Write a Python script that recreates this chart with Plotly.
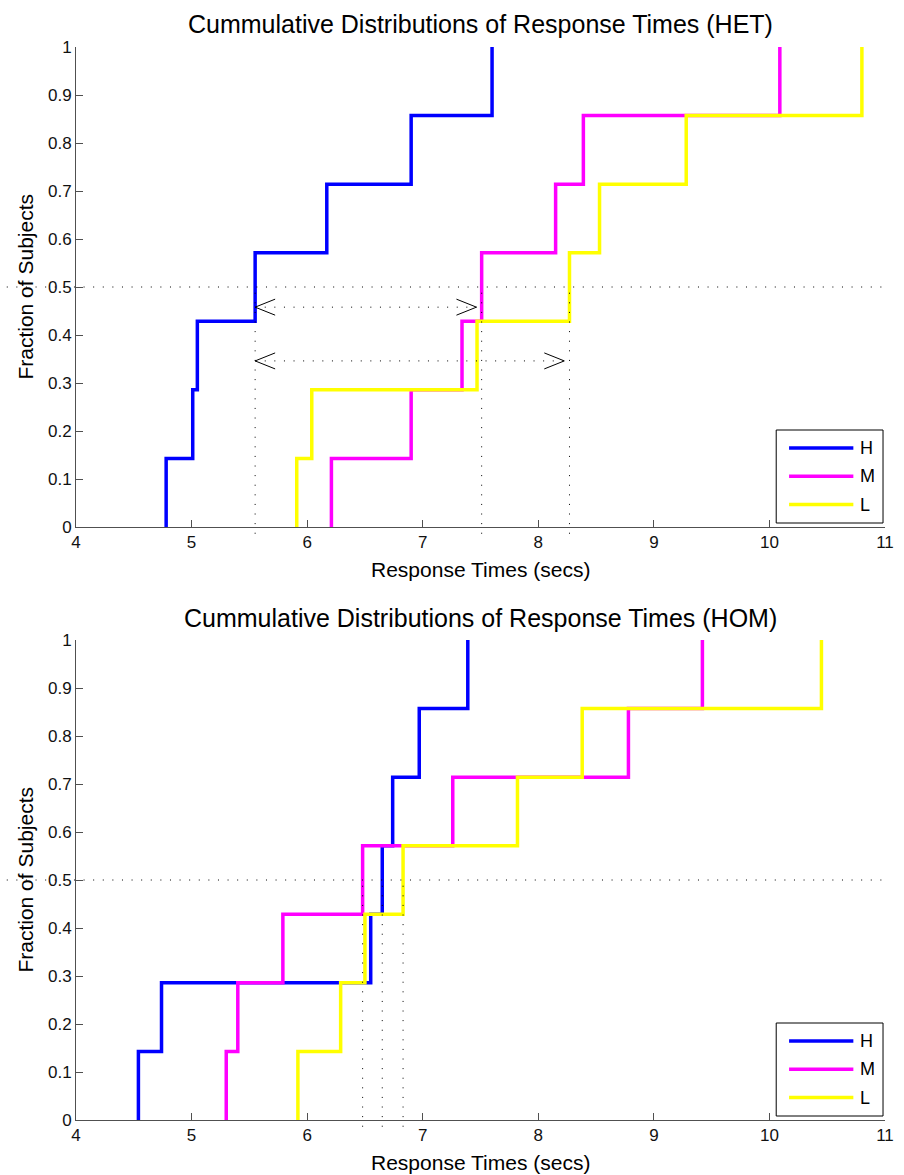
import plotly.graph_objects as go

# ---------------- data (response times, secs; 7 subjects per group) ----------------
groups = ["H", "M", "L"]
colors = ["#0000FF", "#FF00FF", "#FFFF00"]
n_subjects = 7

het_H = [4.78, 5.01, 5.05, 5.55, 6.17, 6.90, 7.60]
het_M = [6.21, 6.90, 7.34, 7.51, 8.15, 8.39, 10.09]
het_L = [5.91, 6.04, 7.47, 8.27, 8.53, 9.28, 10.80]

hom_H = [4.54, 4.74, 6.55, 6.65, 6.74, 6.97, 7.39]
hom_M = [5.30, 5.40, 5.79, 6.48, 7.26, 8.78, 9.42]
hom_L = [5.92, 6.29, 6.50, 6.83, 7.82, 8.38, 10.45]

titles = ["Cummulative Distributions of Response Times (HET)",
          "Cummulative Distributions of Response Times (HOM)"]
x_label = "Response Times (secs)"
y_label = "Fraction of Subjects"
x_ticks = [4, 5, 6, 7, 8, 9, 10, 11]
y_ticks = [0, 0.1, 0.2, 0.3, 0.4, 0.5, 0.6, 0.7, 0.8, 0.9, 1]
median_level = 0.5
arrow_levels = [0.458, 0.346]   # y of the two double arrows (HET panel)

panels = [
    {"data": [het_H, het_M, het_L], "xa": "x", "ya": "y", "arrows": True, "bottom": 527, "title_px": 24},
    {"data": [hom_H, hom_M, hom_L], "xa": "x2", "ya": "y2", "arrows": False, "bottom": 1120, "title_px": 618},
]

FONT = "Liberation Sans, Arial, Helvetica, sans-serif"
W, H = 904, 1175
ML, MR, MT, MB = 76, 10, 47, 55
AXW = W - ML - MR
plot_h = H - MT - MB
top_dom = [1 - 480 / plot_h, 1.0]
bot_dom = [0.0, 480 / plot_h]
XMIN, XMAX = x_ticks[0], x_ticks[-1]

fig = go.Figure()
shapes, annotations = [], []
dot = dict(color="black", width=1, dash="1px,8.6px")


def ecdf(vals):
    xs = sorted(vals)
    x = [xs[0]] + xs
    y = [0] + [(i + 1) / n_subjects for i in range(len(xs))]
    return x, y


def median_x(vals):
    xs = sorted(vals)
    for i, v in enumerate(xs):
        if (i + 1) / n_subjects >= median_level:
            return v
    return xs[-1]


for idx, p in enumerate(panels):
    xa, ya = p["xa"], p["ya"]
    xd, yd = xa + " domain", ya + " domain"
    for g, c, vals in zip(groups, colors, p["data"]):
        x, y = ecdf(vals)
        fig.add_trace(go.Scatter(x=x, y=y, mode="lines", name=g,
                                 line=dict(color=c, width=3.5, shape="hv"),
                                 xaxis=xa, yaxis=ya, showlegend=False))
    # horizontal 0.5 line, extending to the figure's left edge
    shapes.append(dict(type="line", xref=xd, yref=yd, x0=-70 / AXW, x1=1.0,
                       y0=median_level, y1=median_level, line=dot, layer="above"))
    meds = [median_x(v) for v in p["data"]]
    for m in meds:
        fx = (m - XMIN) / (XMAX - XMIN)
        shapes.append(dict(type="line", xref=xd, yref=yd, x0=fx, x1=fx,
                           y0=-0.014, y1=median_level, line=dot, layer="above"))
    if p["arrows"]:
        gap = 0.045
        for lvl, target in zip(arrow_levels, [meds[1], meds[2]]):
            x0, x1 = meds[0], target - gap
            shapes.append(dict(type="line", xref=xa, yref=ya, x0=x0, x1=x1,
                               y0=lvl, y1=lvl, line=dot, layer="above"))
            shapes.append(dict(type="path", xref=xa, yref=ya, xsizemode="pixel",
                               ysizemode="pixel", xanchor=x0, yanchor=lvl,
                               path="M20,8 L0,0 L20,-8",
                               line=dict(color="black", width=1), layer="above"))
            shapes.append(dict(type="path", xref=xa, yref=ya, xsizemode="pixel",
                               ysizemode="pixel", xanchor=x1, yanchor=lvl,
                               path="M-20,8 L0,0 L-20,-8",
                               line=dict(color="black", width=1), layer="above"))
    # custom legend box (lower right)
    bx0, bx1 = (784 - ML) / AXW, (892 - ML) / AXW
    by0, by1 = 4 / 480, 97 / 480
    shapes.append(dict(type="rect", xref=xd, yref=yd, x0=bx0, x1=bx1, y0=by0, y1=by1,
                       line=dict(color="black", width=1), fillcolor="white", layer="above"))
    for k, (g, c) in enumerate(zip(groups, colors)):
        ly = (79 - 28.3 * k) / 480
        shapes.append(dict(type="line", xref=xd, yref=yd, x0=(797 - ML) / AXW,
                           x1=(862 - ML) / AXW, y0=ly, y1=ly,
                           line=dict(color=c, width=3.5), layer="above"))
        annotations.append(dict(text=g, xref=xd, yref=yd, x=(867 - ML) / AXW, y=ly,
                                xanchor="left", yanchor="middle", showarrow=False,
                                font=dict(family=FONT, size=18, color="black")))
    # title and axis labels
    annotations.append(dict(text=titles[idx], xref=xd, yref=yd, x=0.5,
                            y=(p["bottom"] - p["title_px"]) / 480,
                            xanchor="center", yanchor="middle", showarrow=False,
                            font=dict(family=FONT, size=25, color="black")))
    annotations.append(dict(text=x_label, xref=xd, yref=yd, x=0.5, y=-42 / 480,
                            xanchor="center", yanchor="middle", showarrow=False,
                            font=dict(family=FONT, size=21, color="black")))
    annotations.append(dict(text=y_label, xref=xd, yref=yd, x=(24 - ML) / AXW, y=0.5,
                            xanchor="center", yanchor="middle", textangle=-90,
                            showarrow=False,
                            font=dict(family=FONT, size=21, color="black")))

axis_common = dict(showline=True, linecolor="#505050", linewidth=1, ticks="inside",
                   ticklen=7, tickcolor="#505050", showgrid=False, zeroline=False,
                   tickfont=dict(family=FONT, size=17, color="#111111"))

fig.update_layout(
    width=W, height=H,
    margin=dict(l=ML, r=MR, t=MT, b=MB),
    paper_bgcolor="white", plot_bgcolor="white",
    showlegend=False,
    xaxis=dict(domain=[0, 1], range=[XMIN, XMAX], tickvals=x_ticks, anchor="y", **axis_common),
    yaxis=dict(domain=top_dom, range=[0, 1], tickvals=y_ticks, anchor="x", **axis_common),
    xaxis2=dict(domain=[0, 1], range=[XMIN, XMAX], tickvals=x_ticks, anchor="y2", **axis_common),
    yaxis2=dict(domain=bot_dom, range=[0, 1], tickvals=y_ticks, anchor="x2", **axis_common),
    shapes=shapes,
    annotations=annotations,
)

fig.write_html("out.html")
